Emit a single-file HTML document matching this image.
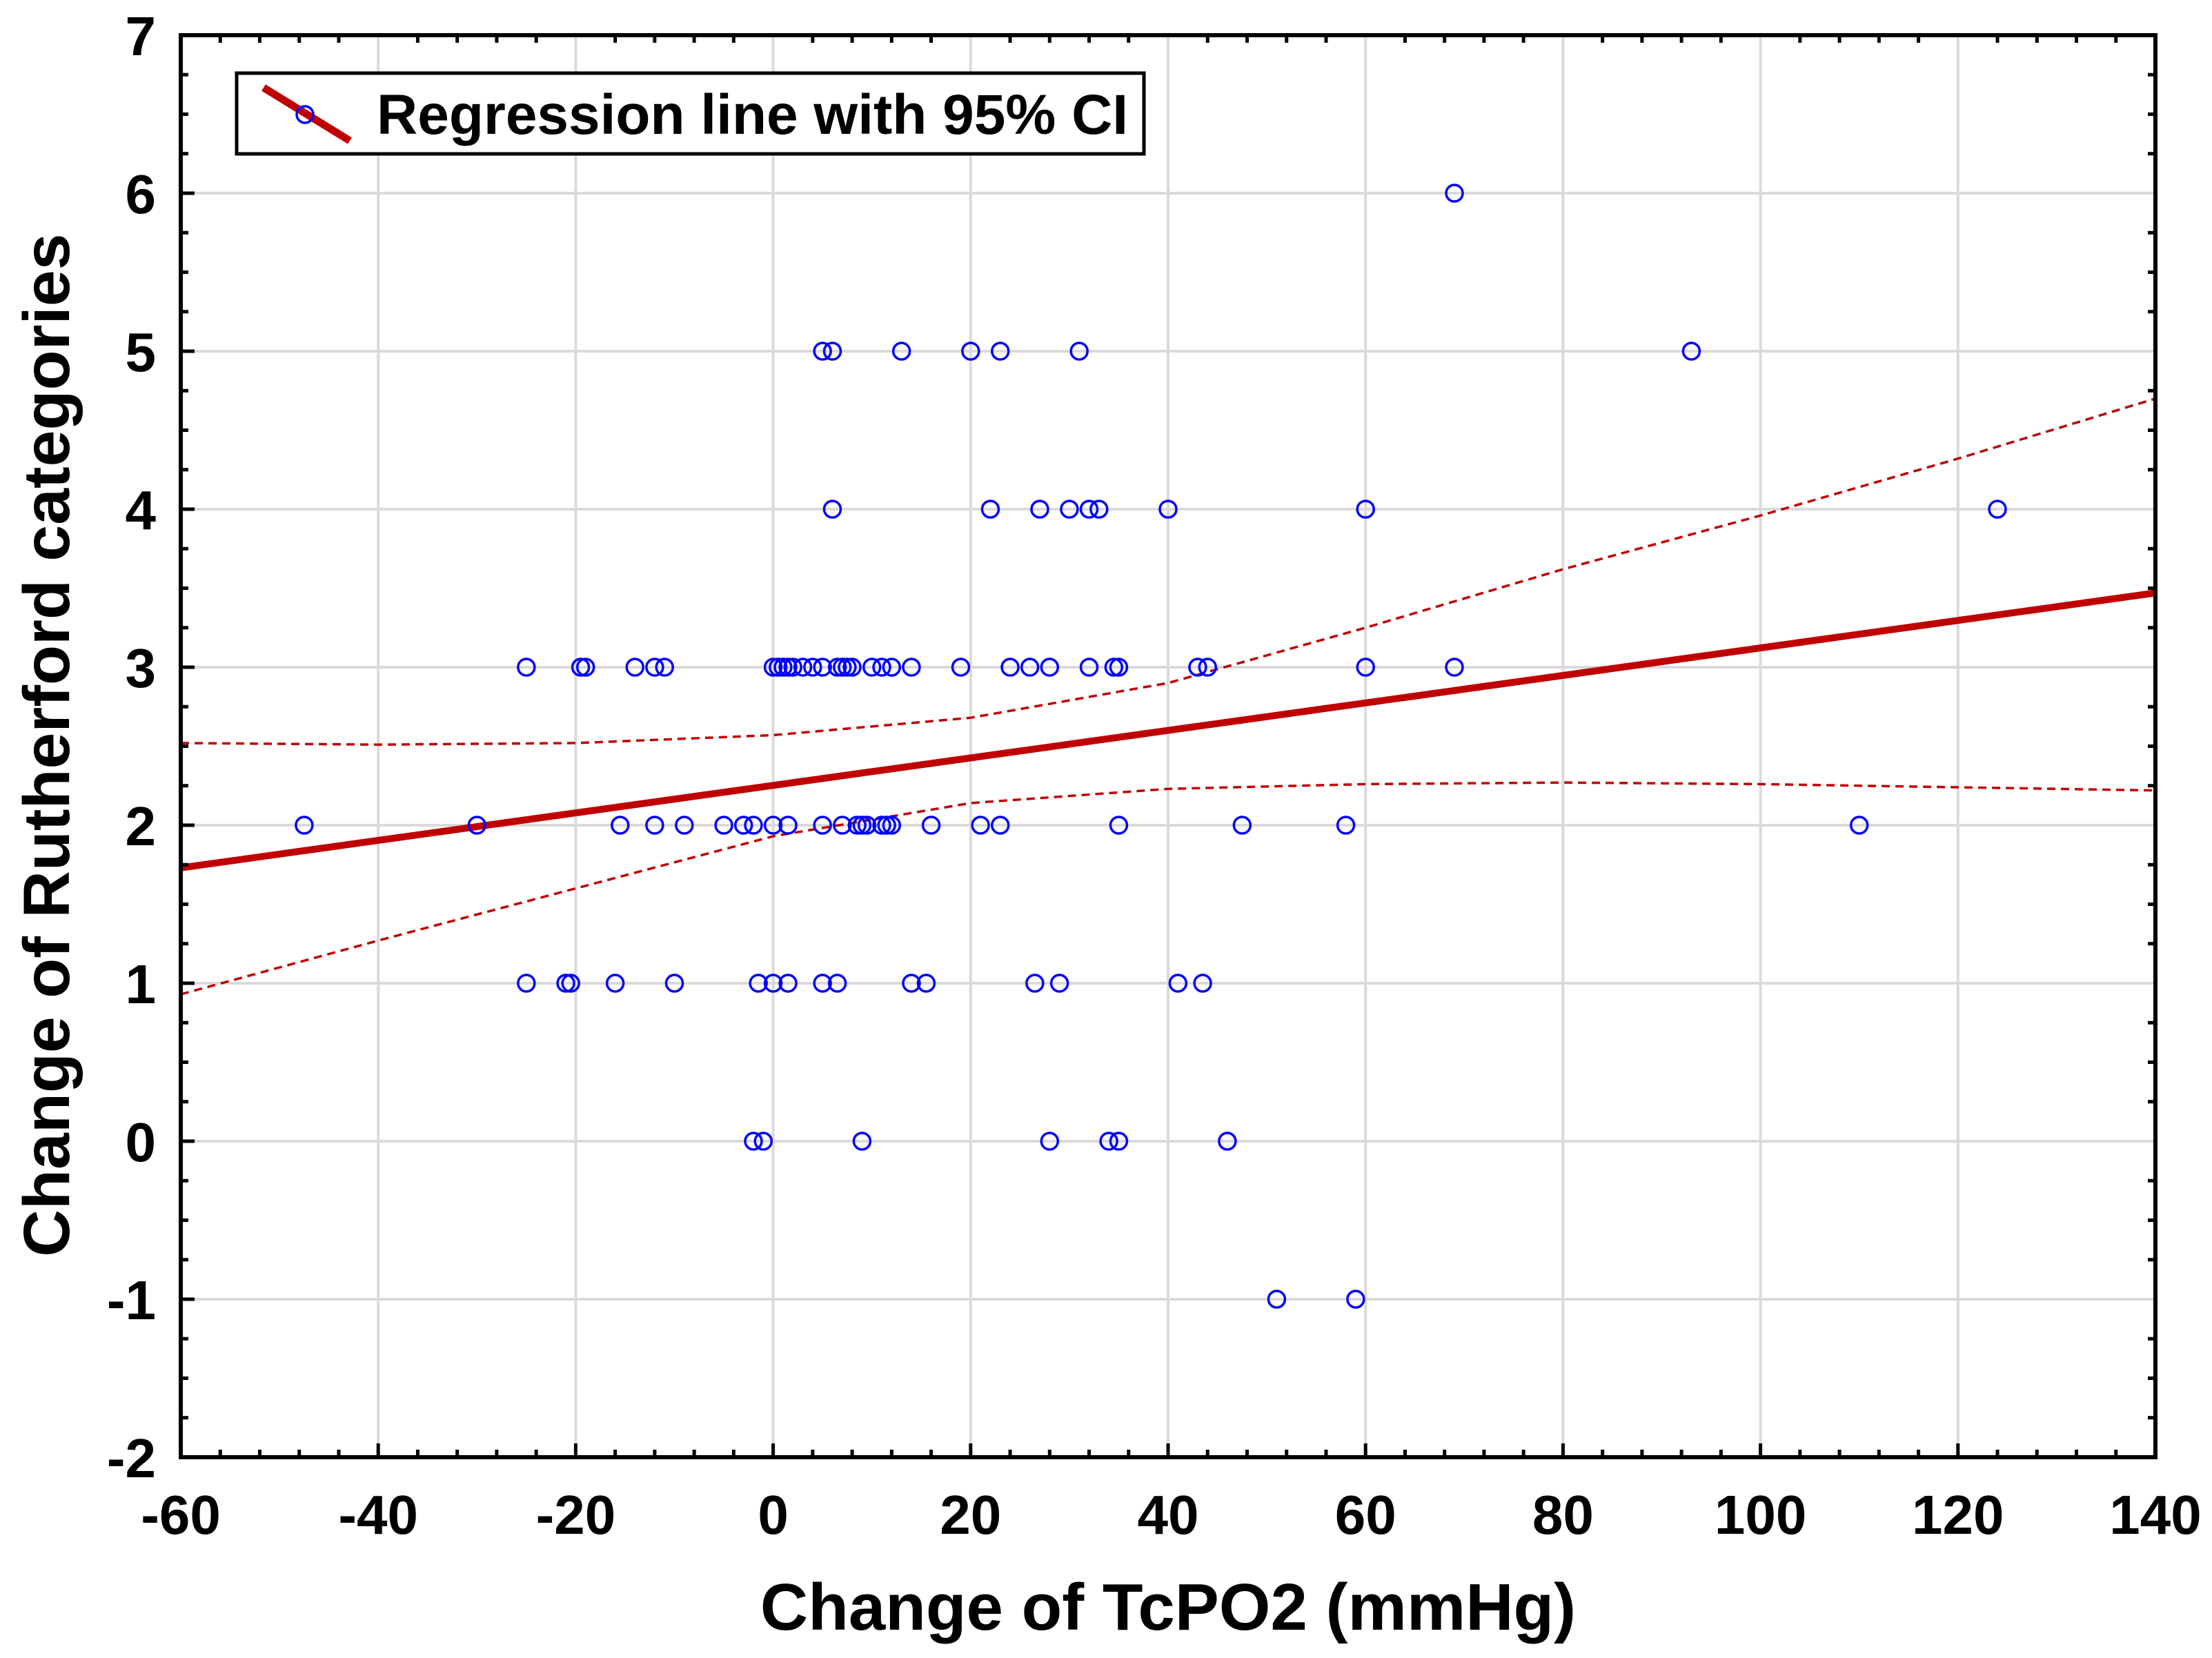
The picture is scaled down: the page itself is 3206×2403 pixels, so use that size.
<!DOCTYPE html>
<html><head><meta charset="utf-8"><style>
html,body{margin:0;padding:0;background:#fff;}
svg{display:block;font-family:"Liberation Sans",Arial,sans-serif;font-weight:bold;}
</style></head><body>
<svg id="chart" width="3206" height="2403" viewBox="0 0 3206 2403" xmlns="http://www.w3.org/2000/svg">
<g id="grid"></g>
<g id="ci"></g>
<g id="reg"></g>
<g id="pts"></g>
<g id="axes"></g>
<g id="legend">
  <rect x="343" y="106" width="1315" height="117" fill="#fff" stroke="#000" stroke-width="5"/>
  <line x1="382" y1="127" x2="507" y2="204" stroke="#c00000" stroke-width="11"/>
  <circle cx="442" cy="166" r="12" fill="none" stroke="#0000ff" stroke-width="3.5"/>
  <text x="546" y="194" font-size="82" fill="#000">Regression line with 95% CI</text>
</g>
<text x="1693" y="2362" font-size="96" text-anchor="middle">Change of TcPO2 (mmHg)</text>
<text transform="translate(100,1080) rotate(-90)" font-size="95" text-anchor="middle">Change of Rutherford categories</text>
</svg>
<script>
const xTicks=[-60,-40,-20,0,20,40,60,80,100,120,140];
const yTicks=[-2,-1,0,1,2,3,4,5,6,7];
const ptX=[69,
5,6,13,20,23,31,93,
6,22,27,30,32,33,40,60,124,
-25,-19.5,-19,-14,-12,-11,0,0.5,1,1.5,2,3,4,5,6.5,7,7.5,8,10,11,12,14,19,24,26,28,32,34.5,35,43,44,60,69,
-47.5,-30,-15.5,-12,-9,-5,-3,-2,0,1.5,5,7,8.5,9,9.5,11,11.5,12,16,21,23,35,47.5,58,110,
-25,-21,-20.5,-16,-10,-1.5,0,1.5,5,6.5,14,15.5,26.5,29,41,43.5,
-2,-1,9,28,34,35,46,
51,59];
const ptY=[6,
5,5,5,5,5,5,5,
4,4,4,4,4,4,4,4,4,
3,3,3,3,3,3,3,3,3,3,3,3,3,3,3,3,3,3,3,3,3,3,3,3,3,3,3,3,3,3,3,3,3,
2,2,2,2,2,2,2,2,2,2,2,2,2,2,2,2,2,2,2,2,2,2,2,2,2,
1,1,1,1,1,1,1,1,1,1,1,1,1,1,1,1,
0,0,0,0,0,0,0,
-1,-1];
const regX=[-60,140];
const regY=[1.73,3.47];
const ciX=[-60,-40,-20,0,20,40,60,80,100,120,140];
const ciUpper=[2.52,2.51,2.52,2.57,2.68,2.90,3.25,3.62,3.96,4.32,4.70];
const ciLower=[0.93,1.27,1.60,1.93,2.14,2.23,2.26,2.27,2.26,2.24,2.22];

const L=262,R=3124,T=51,B=2112;
const xs=v=>L+(v+60)/200*(R-L);
const ys=v=>B-(v+2)/9*(B-T);
const NS="http://www.w3.org/2000/svg";
function mk(tag,parent,attrs){const e=document.createElementNS(NS,tag);for(const k in attrs)e.setAttribute(k,attrs[k]);parent.appendChild(e);return e;}
const grid=document.getElementById('grid'),axes=document.getElementById('axes');
xTicks.forEach(v=>{
  if(v>-60&&v<140){const g=mk('line',grid,{x1:xs(v),x2:xs(v),y1:T,y2:B,stroke:'#dadada','stroke-width':4});
  
  }
  const t=mk('text',axes,{x:xs(v),y:2223,'font-size':80,'text-anchor':'middle'});t.textContent=v;
  
  
  const k=mk('line',axes,{x1:xs(v),x2:xs(v),y1:B,y2:B-20,stroke:'#000','stroke-width':5});
  
  
});
for(let v=-60;v<=140;v+=4){if(v%20!==0){const k=mk('line',axes,{x1:xs(v),x2:xs(v),y1:B,y2:B-11,stroke:'#000','stroke-width':5});


const k2=mk('line',axes,{x1:xs(v),x2:xs(v),y1:T,y2:T+11,stroke:'#000','stroke-width':5});

}}
yTicks.forEach(v=>{
  if(v>-2&&v<7){const g=mk('line',grid,{x1:L,x2:R,y1:ys(v),y2:ys(v),stroke:'#dadada','stroke-width':4});
  
  }
  const t=mk('text',axes,{x:226,y:ys(v)+29,'font-size':80,'text-anchor':'end'});t.textContent=v;
  
  
  const k=mk('line',axes,{x1:L,x2:L+20,y1:ys(v),y2:ys(v),stroke:'#000','stroke-width':5});
  
  
});
for(let i=0;i<=36;i++){if(i%4!==0){const v=-2+i*0.25;
const k=mk('line',axes,{x1:L,x2:L+11,y1:ys(v),y2:ys(v),stroke:'#000','stroke-width':5});


const k2=mk('line',axes,{x1:R,x2:R-11,y1:ys(v),y2:ys(v),stroke:'#000','stroke-width':5});

}}
const fr=mk('rect',axes,{x:L,y:T,width:R-L,height:B-T,fill:'none',stroke:'#000','stroke-width':6});


const ci=document.getElementById('ci');
[[ciUpper,'ci-upper'],[ciLower,'ci-lower']].forEach(([arr,nm])=>{
  const d=ciX.map((x,i)=>(i?'L':'M')+xs(x)+','+ys(arr[i])).join(' ');
  const p=mk('path',ci,{d:d,fill:'none',stroke:'#c00000','stroke-width':3.5,'stroke-dasharray':'12 8'});
  
  
});
const rl=mk('line',document.getElementById('reg'),{x1:xs(regX[0]),y1:ys(regY[0]),x2:xs(regX[1]),y2:ys(regY[1]),stroke:'#c00000','stroke-width':10});


const pts=document.getElementById('pts');
ptX.forEach((x,i)=>{
  const c=mk('circle',pts,{cx:xs(x),cy:ys(ptY[i]),r:12,fill:'none',stroke:'#0000ff','stroke-width':3.5});
  
  
});
</script>
</body></html>
